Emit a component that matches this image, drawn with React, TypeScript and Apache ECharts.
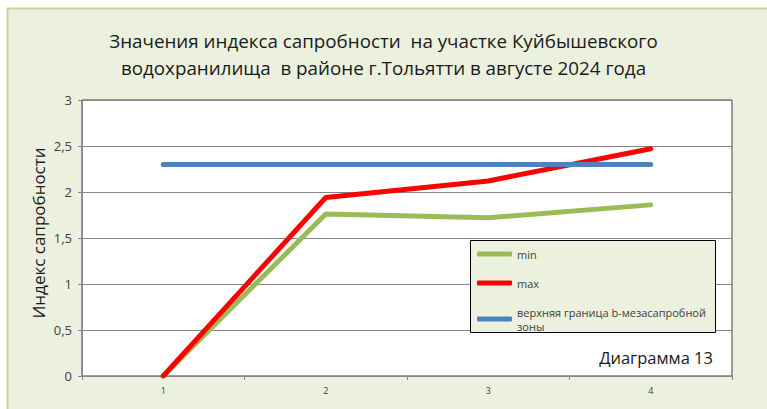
import React, { useEffect, useRef } from "react";
import * as echarts from "echarts";

const categories = ["1", "2", "3", "4"];
const minValues = [0, 1.76, 1.72, 1.86];
const maxValues = [0, 1.94, 2.12, 2.47];
const boundaryValues = [2.3, 2.3, 2.3, 2.3];
const seriesNames = ["min", "max", "верхняя граница b-мезасапробной зоны"];
const yTicks = { min: 0, max: 3, interval: 0.5 };

const FONT = "'Open Sans', 'Noto Sans', sans-serif";

export default function App() {
  const ref = useRef<HTMLDivElement>(null);
  useEffect(() => {
    if (!ref.current) return;
    const chart = echarts.init(ref.current, undefined, { renderer: "svg" });
    const mk = (name: string, data: number[], color: string) => ({
      name,
      type: "line",
      data,
      symbol: "none",
      smooth: false,
      lineStyle: { color, width: 5, cap: "round", join: "round" },
      itemStyle: { color },
    });
    chart.setOption({
      animation: false,
      textStyle: { fontFamily: FONT },
      title: {
        text: "Значения индекса сапробности  на участке Куйбышевского\nводохранилища  в районе г.Тольятти в августе 2024 года",
        left: "center",
        top: 22,
        textStyle: { fontFamily: FONT, fontSize: 18.8, fontWeight: "normal", color: "#1a1a1a", lineHeight: 27 },
      },
      grid: {
        left: 82,
        top: 100,
        right: 35,
        bottom: 33,
        show: true,
        backgroundColor: "#ffffff",
        borderColor: "#404040",
        borderWidth: 1,
      },
      legend: {
        orient: "vertical",
        left: 477,
        top: 247,
        padding: 0,
        itemWidth: 35,
        itemHeight: 5,
        itemGap: 15,
        icon: "roundRect",
        data: seriesNames,
        formatter: (n: string) => (n === seriesNames[2] ? "верхняя граница b-мезасапробной\nзоны" : n),
        textStyle: { fontFamily: FONT, fontSize: 11, color: "#404040", lineHeight: 14 },
        z: 6,
      },
      xAxis: {
        type: "category",
        data: categories,
        boundaryGap: true,
        axisLine: { lineStyle: { color: "#868686", width: 1 } },
        axisTick: { show: true, length: 4, alignWithLabel: false, lineStyle: { color: "#868686" } },
        axisLabel: { fontSize: 9, color: "#404040", margin: 10, fontFamily: FONT },
        splitLine: { show: false },
      },
      yAxis: {
        type: "value",
        min: yTicks.min,
        max: yTicks.max,
        interval: yTicks.interval,
        axisLine: { show: true, lineStyle: { color: "#868686", width: 1 } },
        axisTick: { show: true, length: 4, lineStyle: { color: "#868686" } },
        axisLabel: {
          fontSize: 13,
          color: "#404040",
          margin: 10,
          fontFamily: FONT,
          formatter: (v: number) => String(v).replace(".", ","),
        },
        splitLine: { show: true, lineStyle: { color: "#868686", width: 1 } },
      },
      graphic: [
        {
          type: "rect",
          z: -10,
          silent: true,
          shape: { x: 7.5, y: 8.5, width: 800, height: 450 },
          style: { fill: "#ebf1de", stroke: "#c3d69b", lineWidth: 2 },
        },
        {
          type: "rect",
          z: 5,
          silent: true,
          shape: { x: 470.5, y: 240.5, width: 245, height: 92 },
          style: { fill: "#ebf1de", stroke: "#000000", lineWidth: 1 },
        },
        {
          type: "text",
          z: 5,
          x: 38,
          y: 233,
          rotation: Math.PI / 2,
          style: {
            text: "Индекс сапробности",
            fontFamily: FONT,
            fontSize: 17,
            fill: "#1a1a1a",
            align: "center",
            verticalAlign: "middle",
          },
        },
        {
          type: "text",
          z: 5,
          x: 713,
          y: 357,
          style: {
            text: "Диаграмма 13",
            fontFamily: FONT,
            fontSize: 16.5,
            fill: "#1a1a1a",
            align: "right",
            verticalAlign: "middle",
          },
        },
      ],
      series: [
        mk(seriesNames[0], minValues, "#9bbb59"),
        mk(seriesNames[1], maxValues, "#ff0000"),
        mk(seriesNames[2], boundaryValues, "#4f81bd"),
      ],
    });
    return () => chart.dispose();
  }, []);
  return <div ref={ref} style={{ position: "absolute", left: 0, top: 0, width: 767, height: 409 }} />;
}
